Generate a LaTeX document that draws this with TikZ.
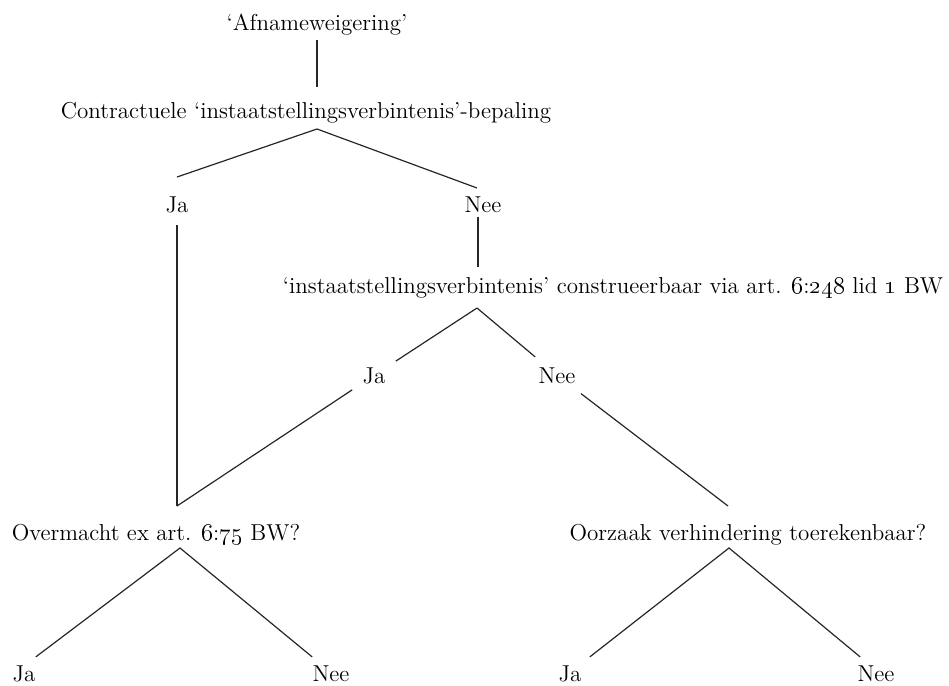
\documentclass[tikz,border=0pt]{standalone}
\usepackage{tikz}
\tikzset{
  lbl/.style={inner sep=0pt,anchor=base,font=\fontsize{11.5}{13.5}\selectfont},
  onlbl/.style={lbl,inner sep=5pt},
  branch/.style={line width=0.6pt,black!85},
}
\newcommand{\osn}[1]{\oldstylenums{#1}}

\begin{document}
\begin{tikzpicture}[x=0.5pt,y=-0.5pt]
        \useasboundingbox (0,0) rectangle (949,686);
        % vragen
        \node[lbl] (afname) at (317,30) {`Afnameweigering'};
        \node[lbl] (contract) at (306,118) {Contractuele `instaatstellingsverbintenis'-bepaling};
        \node[lbl] (ja1) at (177,212) {Ja};
        \node[lbl] (nee1) at (483,212) {Nee};
        \node[lbl] (construe) at (613,293) {`instaatstellingsverbintenis' construeerbaar via art. \osn{6}:\osn{248} lid \osn{1} BW};
        \node[onlbl] (ja2) at (374,383) {Ja};
        \node[onlbl] (nee2) at (557,383) {Nee};
        \node[lbl] (overmacht) at (156,540) {Overmacht ex art. \osn{6}:\osn{75} BW?};
        \node[lbl] (oorzaak) at (748,540) {Oorzaak verhindering toerekenbaar?};
        \node[lbl] (ja3) at (24,681) {Ja};
        \node[lbl] (nee3) at (331,681) {Nee};
        \node[lbl] (ja4) at (570,681) {Ja};
        \node[lbl] (nee4) at (876,681) {Nee};
        % knooppunten
        \coordinate (stem0) at (317,87);
        \coordinate (fork0) at (317,129);
        \coordinate (ja1top) at (177,177);
        \coordinate (nee1top) at (477,188);
        \coordinate (stem1) at (478,267);
        \coordinate (fork1) at (477,308);
        \coordinate (join1) at (177,506);
        \coordinate (join2) at (728,506);
        \coordinate (fork2) at (180,548);
        \coordinate (fork3) at (729,548);
        % takken
        \draw[branch] ([yshift=-2.2pt]afname.south) -- (stem0);
        \draw[branch] (ja1top) -- (fork0) -- (nee1top);
        \draw[branch] ([yshift=-6pt]ja1.south) -- (join1);
        \draw[branch] ([yshift=-2pt]stem1 |- nee1.south) -- (stem1);
        \draw[branch] (fork1) -- (ja2) -- (join1);
        \draw[branch] (fork1) -- (nee2) -- (join2);
        \draw[branch] ([yshift=4pt]ja3.north east) -- (fork2) -- ([yshift=4pt]nee3.north west);
        \draw[branch] ([yshift=4pt,xshift=4pt]ja4.north east) -- (fork3) -- ([yshift=4pt,xshift=1.5pt]nee4.north west);
      \end{tikzpicture}
\end{document}
